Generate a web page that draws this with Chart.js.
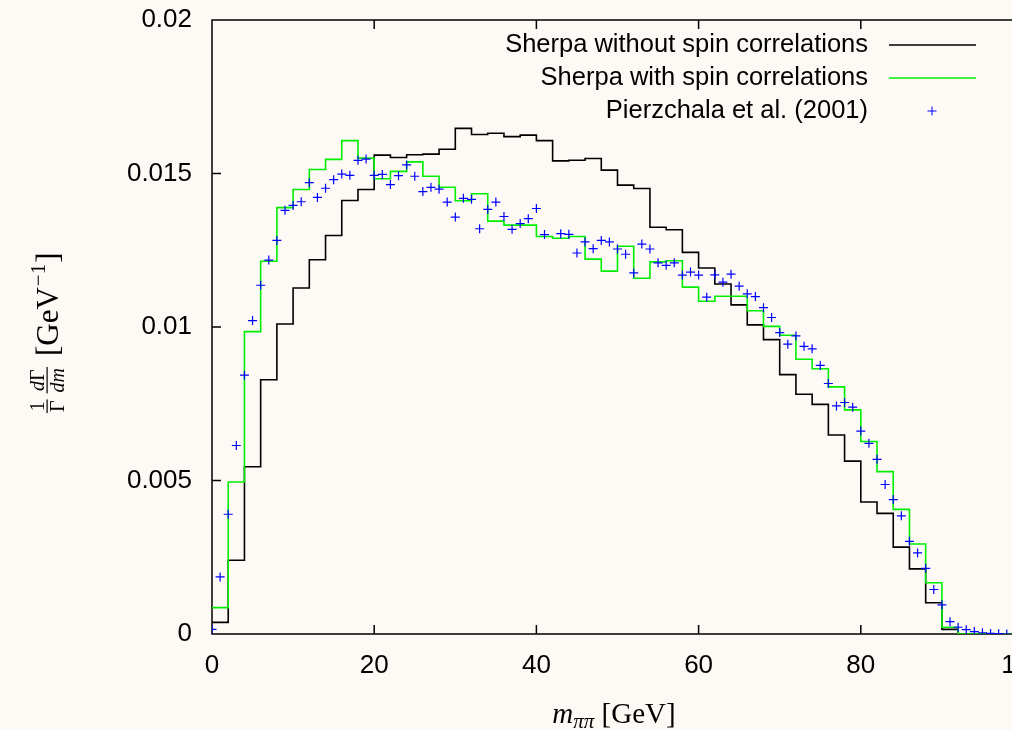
<!DOCTYPE html>
<html>
<head>
<meta charset="utf-8">
<script src="https://cdn.jsdelivr.net/npm/chart.js@4.4.1/dist/chart.umd.min.js"></script>
<style>
  html, body { margin: 0; padding: 0; overflow: hidden; background: #fdfaf6; }
  #wrap { width: 1045px; height: 730px; }
</style>
</head>
<body>
<div id="wrap"><canvas id="chart" width="1045" height="730"></canvas></div>
<script>
// left edges of the 2 GeV bins
const binEdges = [0, 2, 4, 6, 8, 10, 12, 14, 16, 18, 20, 22, 24, 26, 28, 30, 32, 34, 36, 38,
  40, 42, 44, 46, 48, 50, 52, 54, 56, 58, 60, 62, 64, 66, 68, 70, 72, 74, 76, 78,
  80, 82, 84, 86, 88, 90, 92, 94, 96, 98];

// Sherpa without spin correlations (black)
const noSpinCorr = [0.00038, 0.00240, 0.00545, 0.00828, 0.01010, 0.01127, 0.01219, 0.01298, 0.01412, 0.01448,
  0.01560, 0.01552, 0.01561, 0.01563, 0.01579, 0.01647, 0.01627, 0.01631, 0.01620, 0.01625,
  0.01607, 0.01541, 0.01543, 0.01549, 0.01511, 0.01462, 0.01451, 0.01325, 0.01317, 0.01243,
  0.01192, 0.01140, 0.01072, 0.01007, 0.00959, 0.00845, 0.00781, 0.00748, 0.00648, 0.00563,
  0.00430, 0.00393, 0.00283, 0.00212, 0.00102, 0.00015, 0, 0, 0, 0];

// Sherpa with spin correlations (green)
const withSpinCorr = [0.00086, 0.00495, 0.00985, 0.01214, 0.01389, 0.01448, 0.01513, 0.01546, 0.01607, 0.01550,
  0.01483, 0.01507, 0.01538, 0.01491, 0.01455, 0.01411, 0.01434, 0.01345, 0.01332, 0.01332,
  0.01295, 0.01289, 0.01295, 0.01221, 0.01182, 0.01263, 0.01159, 0.01212, 0.01216, 0.01130,
  0.01084, 0.01100, 0.01100, 0.01053, 0.01002, 0.00973, 0.00895, 0.00864, 0.00805, 0.00730,
  0.00627, 0.00529, 0.00406, 0.00293, 0.00167, 0.00022, 0, 0, 0, 0];

// Pierzchala et al. (2001) points, one per GeV
const dataMass = [0, 1, 2, 3, 4, 5, 6, 7, 8, 9, 10, 11, 12, 13, 14, 15, 16, 17, 18, 19,
  20, 21, 22, 23, 24, 25, 26, 27, 28, 29, 30, 31, 32, 33, 34, 35, 36, 37, 38, 39,
  40, 41, 42, 43, 44, 45, 46, 47, 48, 49, 50, 51, 52, 53, 54, 55, 56, 57, 58, 59,
  60, 61, 62, 63, 64, 65, 66, 67, 68, 69, 70, 71, 72, 73, 74, 75, 76, 77, 78, 79,
  80, 81, 82, 83, 84, 85, 86, 87, 88, 89, 90, 91, 92, 93, 94, 95, 96, 97, 98];
const dataValues = [0.00015, 0.00186, 0.00390, 0.00614, 0.00843, 0.01021, 0.01136, 0.01218, 0.01282, 0.01380,
  0.01396, 0.01408, 0.01470, 0.01422, 0.01452, 0.01480, 0.01498, 0.01494, 0.01543, 0.01547,
  0.01494, 0.01497, 0.01464, 0.01493, 0.01528, 0.01491, 0.01441, 0.01455, 0.01449, 0.01407,
  0.01358, 0.01419, 0.01416, 0.01320, 0.01383, 0.01407, 0.01360, 0.01318, 0.01337, 0.01353,
  0.01386, 0.01301, null, 0.01304, 0.01302, 0.01241, 0.01277, 0.01255, 0.01282, 0.01277,
  0.01254, 0.01237, 0.01176, 0.01270, 0.01254, 0.01209, 0.01201, 0.01209, 0.01169, 0.01179,
  0.01169, 0.01097, 0.01170, 0.01146, 0.01172, 0.01133, 0.01108, 0.01099, 0.01063, 0.01031,
  0.00982, 0.00944, 0.00971, 0.00937, 0.00929, 0.00875, 0.00816, 0.00743, 0.00754, 0.00739,
  0.00661, 0.00621, 0.00569, 0.00487, 0.00438, 0.00385, 0.00302, 0.00264, 0.00214, 0.00145,
  0.00095, 0.00040, 0.00022, 0.00014, 0.00008, 0.00004, 0.00002, 0.00001, 0.00000];

const xTicks = [0, 20, 40, 60, 80, 100];
const yTicks = [0, 0.005, 0.01, 0.015, 0.02];
const yTickLabels = ["0", "0.005", "0.01", "0.015", "0.02"];
const seriesNames = ["Sherpa without spin correlations", "Sherpa with spin correlations", "Pierzchala et al. (2001)"];

const sansFont = "'Liberation Sans', Arial, sans-serif";
const serifFont = "'Liberation Serif', 'Times New Roman', serif";

// histogram as step line: value held from each left edge, closed at 100
function histPoints(values) {
  const pts = binEdges.map((e, i) => ({ x: e, y: values[i] }));
  pts.push({ x: 100, y: values[values.length - 1] });
  return pts;
}

const pointData = [];
dataMass.forEach((m, i) => {
  if (dataValues[i] !== null) pointData.push({ x: m, y: dataValues[i] });
});

// frame with inward ticks (gnuplot style)
const framePlugin = {
  id: "frame",
  beforeDatasetsDraw(chart) {
    const { ctx, chartArea: a, scales: { x, y } } = chart;
    ctx.save();
    ctx.strokeStyle = "#000";
    ctx.lineWidth = 1.5;
    ctx.beginPath();
    ctx.rect(a.left, a.top, a.right - a.left, a.bottom - a.top);
    xTicks.forEach(v => {
      const px = x.getPixelForValue(v);
      ctx.moveTo(px, a.bottom); ctx.lineTo(px, a.bottom - 9);
      ctx.moveTo(px, a.top); ctx.lineTo(px, a.top + 9);
    });
    yTicks.forEach(v => {
      const py = y.getPixelForValue(v);
      ctx.moveTo(a.left, py); ctx.lineTo(a.left + 9, py);
      ctx.moveTo(a.right, py); ctx.lineTo(a.right - 9, py);
    });
    ctx.stroke();
    ctx.restore();
  }
};

function drawFrac(ctx, x, midY, num, den, size) {
  // num/den are arrays of [text, italic]
  const measure = parts => parts.reduce((w, p) => {
    ctx.font = (p[1] ? "italic " : "") + size + "px " + serifFont;
    return w + ctx.measureText(p[0]).width;
  }, 0);
  const wn = measure(num), wd = measure(den);
  const w = Math.max(wn, wd) + 2;
  const put = (parts, startX, baseY) => {
    let cx = startX;
    parts.forEach(p => {
      ctx.font = (p[1] ? "italic " : "") + size + "px " + serifFont;
      ctx.fillText(p[0], cx, baseY);
      cx += ctx.measureText(p[0]).width;
    });
  };
  put(num, x + (w - wn) / 2, midY - 4);
  put(den, x + (w - wd) / 2, midY + size * 0.8);
  ctx.fillRect(x, midY - 1.5, w, 1.2);
  return w;
}

const labelsPlugin = {
  id: "labels",
  afterDraw(chart) {
    const { ctx } = chart;
    ctx.save();
    ctx.fillStyle = "#000";
    ctx.textBaseline = "alphabetic";
    ctx.textAlign = "left";

    // x axis title: m_{pi pi} [GeV]
    const big = 29, small = 21;
    const pieces = [
      ["m", "italic " + big + "px " + serifFont, 0],
      ["ππ", "italic " + small + "px " + serifFont, 5],
      [" [GeV]", big + "px " + serifFont, 0]
    ];
    let total = 0;
    pieces.forEach(p => { ctx.font = p[1]; total += ctx.measureText(p[0]).width; });
    let cx = 614 - total / 2;
    pieces.forEach(p => {
      ctx.font = p[1];
      ctx.fillText(p[0], cx, 723 + p[2]);
      cx += ctx.measureText(p[0]).width;
    });

    // y axis title: 1/Gamma dGamma/dm [GeV^-1], rotated
    ctx.translate(48, 329);
    ctx.rotate(-Math.PI / 2);
    let px = -84;
    px += drawFrac(ctx, px, 0, [["1", false]], [["Γ", false]], 20) + 6;
    px += drawFrac(ctx, px, 0, [["d", true], ["Γ", false]], [["dm", true]], 20) + 11;
    ctx.font = "31px " + serifFont;
    ctx.fillText("[GeV", px, 10);
    px += ctx.measureText("[GeV").width;
    ctx.font = "21px " + serifFont;
    ctx.fillText("−1", px + 1, -3);
    px += ctx.measureText("−1").width + 2;
    ctx.font = "31px " + serifFont;
    ctx.fillText("]", px, 10);
    ctx.setTransform(1, 0, 0, 1, 0, 0);

    // legend, top right
    ctx.font = "25.5px " + sansFont;
    ctx.textAlign = "right";
    ctx.textBaseline = "middle";
    const rows = [45, 78, 111];
    const textRight = 868;
    seriesNames.forEach((name, i) => ctx.fillText(name, textRight, rows[i]));
    ctx.lineWidth = 1.5;
    ctx.strokeStyle = "#000";
    ctx.beginPath(); ctx.moveTo(889, rows[0]); ctx.lineTo(976, rows[0]); ctx.stroke();
    ctx.strokeStyle = "#00ee00";
    ctx.beginPath(); ctx.moveTo(889, rows[1]); ctx.lineTo(976, rows[1]); ctx.stroke();
    ctx.strokeStyle = "#0000ff";
    ctx.lineWidth = 1;
    ctx.beginPath();
    ctx.moveTo(932 - 4.5, rows[2]); ctx.lineTo(932 + 4.5, rows[2]);
    ctx.moveTo(932, rows[2] - 4.5); ctx.lineTo(932, rows[2] + 4.5);
    ctx.stroke();
    ctx.restore();
  }
};

new Chart(document.getElementById("chart"), {
  type: "scatter",
  data: {
    datasets: [
      {
        label: seriesNames[2],
        data: pointData,
        pointStyle: "cross",
        pointRadius: 4.5,
        borderColor: "#0000ff",
        backgroundColor: "#0000ff",
        borderWidth: 1.2,
        order: 0
      },
      {
        label: seriesNames[1],
        data: histPoints(withSpinCorr),
        showLine: true,
        stepped: "before",
        borderColor: "#00ee00",
        borderWidth: 1.6,
        pointRadius: 0,
        order: 1
      },
      {
        label: seriesNames[0],
        data: histPoints(noSpinCorr),
        showLine: true,
        stepped: "before",
        borderColor: "#000000",
        borderWidth: 1.6,
        pointRadius: 0,
        order: 2
      }
    ]
  },
  options: {
    responsive: false,
    animation: false,
    layout: { padding: { top: 20, right: 22, left: 0, bottom: 0 } },
    plugins: {
      legend: { display: false },
      tooltip: { enabled: false }
    },
    scales: {
      x: {
        type: "linear",
        min: 0,
        max: 100,
        afterBuildTicks: s => { s.ticks = xTicks.map(v => ({ value: v })); },
        afterFit: s => { s.height = 96; s.paddingLeft = 0; s.paddingRight = 0; },
        grid: { display: false },
        border: { display: false },
        ticks: {
          color: "#000",
          padding: 8,
          maxRotation: 0,
          font: { family: sansFont, size: 26 },
          callback: v => String(v)
        }
      },
      y: {
        type: "linear",
        min: 0,
        max: 0.02,
        afterBuildTicks: s => { s.ticks = yTicks.map(v => ({ value: v })); },
        afterFit: s => { s.width = 212; s.paddingTop = 0; s.paddingBottom = 0; },
        grid: { display: false },
        border: { display: false },
        ticks: {
          color: "#000",
          padding: 12,
          font: { family: sansFont, size: 26 },
          callback: v => yTickLabels[yTicks.indexOf(v)]
        }
      }
    }
  },
  plugins: [framePlugin, labelsPlugin]
});
</script>
</body>
</html>
